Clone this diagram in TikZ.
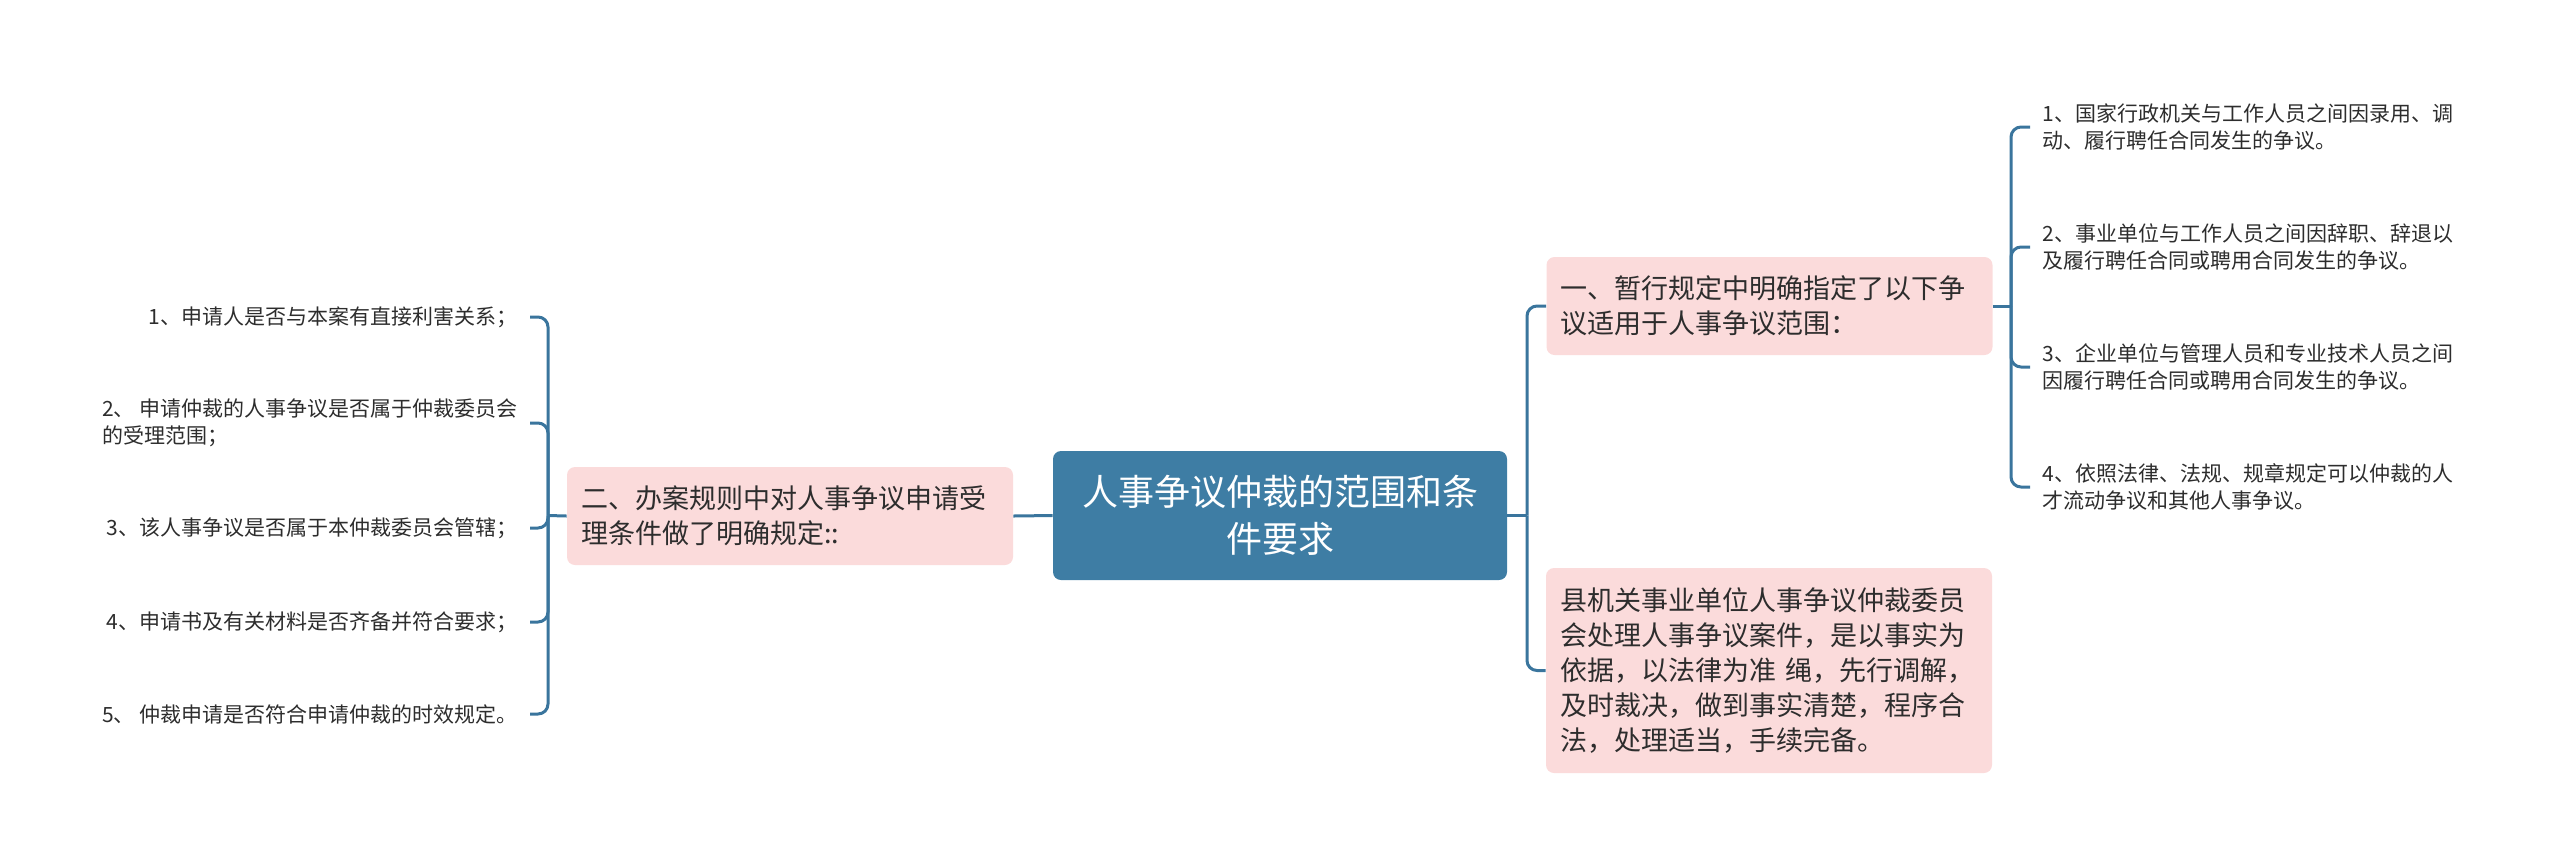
\documentclass[tikz,border=0pt]{standalone}
\usepackage{fontspec}
\setmainfont{Noto Sans CJK SC}
\usetikzlibrary{positioning}

\definecolor{rootblue}{RGB}{62,125,164}
\definecolor{linkblue}{RGB}{58,117,157}
\definecolor{topicpink}{RGB}{251,219,219}
\definecolor{txtgray}{RGB}{45,45,45}

\begin{document}
\begin{tikzpicture}[x=0.5pt, y=-0.5pt,
    root/.style={fill=rootblue, text=white, rounded corners=4pt, minimum width=227pt, minimum height=64.5pt, align=center, font=\fontsize{18pt}{23.5pt}\selectfont},
    topic/.style={fill=topicpink, text=txtgray, rounded corners=4pt, text width=209pt, inner xsep=7pt, align=left, font=\fontsize{13.5pt}{17.5pt}\selectfont},
    leaf/.style={text=txtgray, align=left, inner xsep=6pt, font=\fontsize{10.5pt}{13.5pt}\selectfont},
    link/.style={draw=linkblue, line width=1.5pt, rounded corners=5pt}]
    \useasboundingbox (0,0) rectangle (2560,864);

    % --- Nodo centrale ---
    \node[root] (root) at (1280,515.5) {人事争议仲裁的范围和条\\件要求};

    % --- Ramo sinistro ---
    \node[topic, minimum height=49pt] (left) at (790,516) {二、办案规则中对人事争议申请受\\理条件做了明确规定::};
    \coordinate (jl) at (548,515.5);
    \node[leaf, anchor=east] (l1) at (530,317) {1、申请人是否与本案有直接利害关系；};
    \node[leaf, anchor=east] (l2) at (530,423) {2、 申请仲裁的人事争议是否属于仲裁委员会\\的受理范围；};
    \node[leaf, anchor=east] (l3) at (530,528) {3、该人事争议是否属于本仲裁委员会管辖；};
    \node[leaf, anchor=east] (l4) at (530,622) {4、申请书及有关材料是否齐备并符合要求；};
    \node[leaf, anchor=east] (l5) at (530,714) {5、 仲裁申请是否符合申请仲裁的时效规定。};

    \draw[link] (root.west) -- (left.east);
    \draw[link] (left.west) -- (jl);
    \foreach \n in {l1,l2,l3,l4,l5}
        \draw[link] (jl) |- (\n.east);

    % --- Ramo destro ---
    \coordinate (jr) at (1527,515.5);
    \node[topic, minimum height=49pt] (r1) at (1769.5,306) {一、暂行规定中明确指定了以下争\\议适用于人事争议范围：};
    \node[topic, minimum height=102.5pt] (r2) at (1769,670.5) {县机关事业单位人事争议仲裁委员\\会处理人事争议案件，是以事实为\\依据，以法律为准 绳，先行调解，\\及时裁决，做到事实清楚，程序合\\法，处理适当，手续完备。};
    \draw[link] (root.east) -- (jr);
    \draw[link] (jr) |- (r1.west);
    \draw[link] (jr) |- (r2.west);

    % --- Foglie del primo punto ---
    \coordinate (jrr) at (2011,306);
    \node[leaf, anchor=west] (f1) at (2030,127) {1、国家行政机关与工作人员之间因录用、调\\动、履行聘任合同发生的争议。};
    \node[leaf, anchor=west] (f2) at (2030,247) {2、事业单位与工作人员之间因辞职、辞退以\\及履行聘任合同或聘用合同发生的争议。};
    \node[leaf, anchor=west] (f3) at (2030,367) {3、企业单位与管理人员和专业技术人员之间\\因履行聘任合同或聘用合同发生的争议。};
    \node[leaf, anchor=west] (f4) at (2030,487) {4、依照法律、法规、规章规定可以仲裁的人\\才流动争议和其他人事争议。};
    \draw[link] (r1.east) -- (jrr);
    \foreach \n in {f1,f2,f3,f4}
        \draw[link] (jrr) |- (\n.west);
\end{tikzpicture}
\end{document}
